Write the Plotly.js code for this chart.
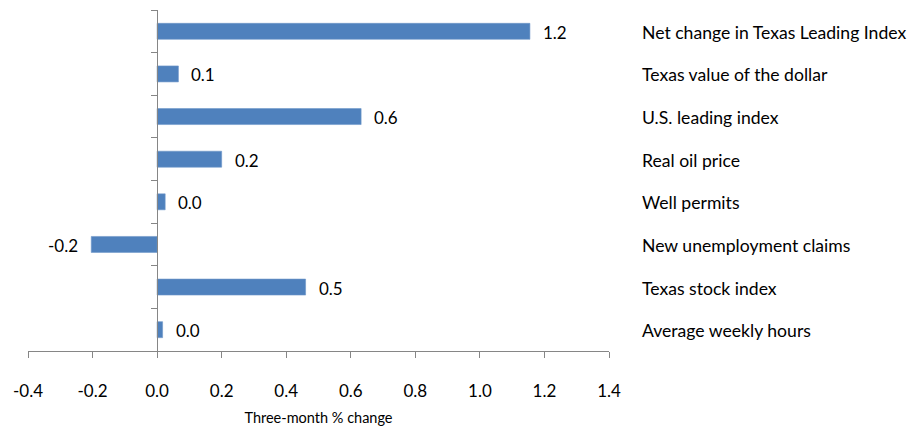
<!DOCTYPE html>
<html>
<head>
<meta charset="utf-8">
<script src="https://cdn.plot.ly/plotly-3.0.1.min.js"></script>
<style>html,body{margin:0;padding:0;background:#fff;}#chart{width:918px;height:426px;}</style>
</head>
<body>
<div id="chart"></div>
<script>
const categories = [
  "Net change in Texas Leading Index",
  "Texas value of the dollar",
  "U.S. leading index",
  "Real oil price",
  "Well permits",
  "New unemployment claims",
  "Texas stock index",
  "Average weekly hours"
];
const values = [1.155, 0.066, 0.632, 0.20, 0.025, -0.204, 0.46, 0.017];
const xTickVals = [-0.4, -0.2, 0.0, 0.2, 0.4, 0.6, 0.8, 1.0, 1.2, 1.4];
const xTickText = ["-0.4", "-0.2", "0.0", "0.2", "0.4", "0.6", "0.8", "1.0", "1.2", "1.4"];
const xTitle = "Three-month % change";

const FONT = "Lato, 'Open Sans', sans-serif";
const AXIS = "#868686";
const xMin = -0.4, xMax = 1.4;

const trace = {
  type: "bar",
  orientation: "h",
  x: values,
  y: categories,
  width: 0.375,
  marker: {color: "#4F81BD", line: {color: "#6F97C9", width: 0.6}},
  hoverinfo: "x+y"
};

const annotations = [];
categories.forEach((c, i) => {
  const v = values[i];
  annotations.push({
    x: v, y: c, xref: "x", yref: "y",
    text: v.toFixed(1),
    showarrow: false,
    xanchor: v >= 0 ? "left" : "right",
    xshift: v >= 0 ? 11 : -11,
    yshift: -1,
    font: {family: FONT, size: 17, color: "#000"}
  });
  annotations.push({
    x: 1, y: c, xref: "paper", yref: "y",
    text: c,
    showarrow: false,
    xanchor: "left",
    xshift: 31,
    yshift: -1,
    font: {family: FONT, size: 17.6, color: "#000"}
  });
});

const layout = {
  width: 918, height: 426,
  margin: {l: 28, r: 309, t: 10, b: 75, pad: 0},
  paper_bgcolor: "#fff", plot_bgcolor: "#fff",
  showlegend: false,
  bargap: 0,
  font: {family: FONT, size: 17, color: "#000"},
  xaxis: {
    range: [xMin, xMax],
    tickvals: xTickVals,
    ticktext: xTickText,
    ticks: "outside", ticklen: 6, tickcolor: AXIS, tickwidth: 1,
    showline: true, linecolor: AXIS, linewidth: 1,
    showgrid: false, zeroline: false,
    ticklabelstandoff: 19,
    tickfont: {family: FONT, size: 17, color: "#000"},
    title: {text: xTitle, font: {family: FONT, size: 14.5, color: "#000"}, standoff: 13},
    fixedrange: true
  },
  yaxis: {
    autorange: "reversed",
    type: "category",
    anchor: "free",
    position: (0 - xMin) / (xMax - xMin),
    showline: true, linecolor: AXIS, linewidth: 1,
    ticks: "outside", ticklen: 6, tickcolor: AXIS, tickwidth: 1,
    tickson: "boundaries",
    showticklabels: false,
    showgrid: false, zeroline: false,
    fixedrange: true
  },
  annotations: annotations
};

Plotly.newPlot("chart", [trace], layout, {displayModeBar: false, staticPlot: true});
</script>
</body>
</html>
